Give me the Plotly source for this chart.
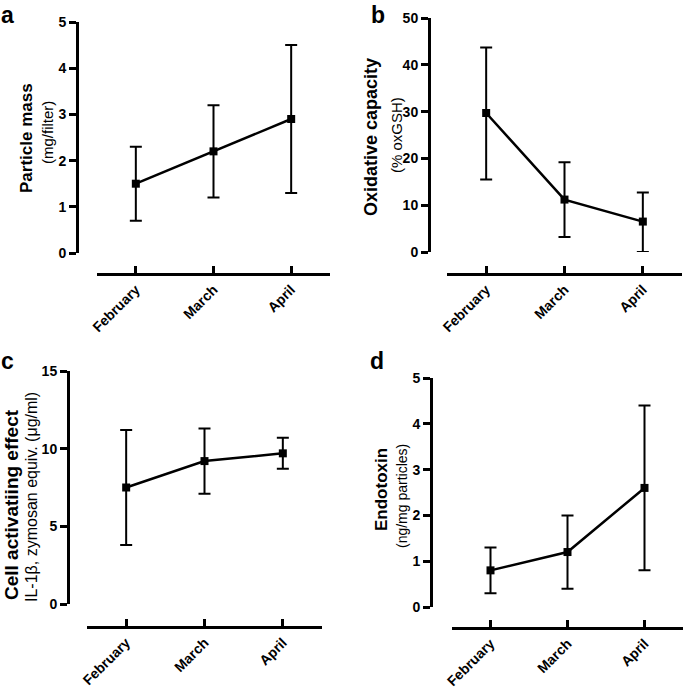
import plotly.graph_objects as go

# ---------------- data ----------------
months = ["February", "March", "April"]

mass = [1.5, 2.2, 2.9]
mass_lo = [0.7, 1.2, 1.3]
mass_hi = [2.3, 3.2, 4.5]

oxid = [29.7, 11.2, 6.5]
oxid_lo = [15.5, 3.2, 0.0]
oxid_hi = [43.7, 19.2, 12.7]

cell = [7.5, 9.2, 9.7]
cell_lo = [3.8, 7.1, 8.7]
cell_hi = [11.2, 11.3, 10.7]

endo = [0.8, 1.2, 2.6]
endo_lo = [0.3, 0.4, 0.8]
endo_hi = [1.3, 2.0, 4.4]

W, H = 685, 692
FONT = "Liberation Sans, Arial, Helvetica, sans-serif"


def px(x):
    return x / W


def py(y):
    return 1 - y / H


# panel geometry in pixels
panels = [
    dict(key="", vals=mass, lo=mass_lo, hi=mass_hi, yr=[0, 5], dt=1,
         xl=97, xr=330, yt=22, yb=253, yax=77, xay=274),
    dict(key="2", vals=oxid, lo=oxid_lo, hi=oxid_hi, yr=[0, 50], dt=10,
         xl=447, xr=682, yt=18, yb=252, yax=429, xay=274),
    dict(key="3", vals=cell, lo=cell_lo, hi=cell_hi, yr=[0, 15], dt=5,
         xl=87, xr=322, yt=371, yb=604, yax=68, xay=627),
    dict(key="4", vals=endo, lo=endo_lo, hi=endo_hi, yr=[0, 5], dt=1,
         xl=452, xr=683, yt=378, yb=607, yax=431, xay=628),
]

fig = go.Figure()
layout = dict(
    width=W, height=H,
    margin=dict(l=0, r=0, t=0, b=0, autoexpand=False),
    paper_bgcolor="white", plot_bgcolor="white",
    showlegend=False,
    font=dict(family=FONT, color="black"),
)

for p in panels:
    k = p["key"]
    fig.add_trace(go.Scatter(
        x=months, y=p["vals"],
        xaxis="x" + k, yaxis="y" + k,
        mode="lines+markers",
        line=dict(color="black", width=2.5),
        marker=dict(symbol="square", size=8, color="black"),
        error_y=dict(
            type="data", symmetric=False,
            array=[h - v for h, v in zip(p["hi"], p["vals"])],
            arrayminus=[v - l for v, l in zip(p["vals"], p["lo"])],
            color="black", thickness=2, width=6,
        ),
        cliponaxis=False,
        hoverinfo="skip",
    ))
    layout["xaxis" + k] = dict(
        domain=[px(p["xl"]), px(p["xr"])],
        anchor="free", position=py(p["xay"]),
        type="category", categoryorder="array", categoryarray=months,
        range=[-0.5, 2.5],
        showline=True, linewidth=3, linecolor="black",
        ticks="inside", ticklen=7, tickwidth=3, tickcolor="black",
        tickangle=-45,
        tickfont=dict(family=FONT, size=14, color="black", weight="bold"),
        showgrid=False, zeroline=False, fixedrange=True, automargin=False,
    )
    layout["yaxis" + k] = dict(
        domain=[py(p["yb"]), py(p["yt"])],
        anchor="free", position=px(p["yax"]),
        range=p["yr"], dtick=p["dt"], tick0=0,
        showline=True, linewidth=3, linecolor="black",
        ticks="outside", ticklen=7, tickwidth=3, tickcolor="black",
        tickfont=dict(family=FONT, size=14, color="black", weight="bold"),
        showgrid=False, zeroline=False, fixedrange=True, automargin=False,
    )

annotations = []

# panel letters (x centre, top of text box in pixels)
letters = [("a", 8, 0), ("b", 378, 0), ("c", 8, 346), ("d", 377, 346)]
for t, x, y in letters:
    annotations.append(dict(
        text="<b>%s</b>" % t, x=px(x), y=py(y), xref="paper", yref="paper",
        xanchor="center", yanchor="top", showarrow=False,
        font=dict(family=FONT, size=23, color="black"),
    ))

# axis titles (bold line + plain line)
titles = [
    ("Particle mass", 17, 26, 138, "(mg/filter)", 15, 47, 133),
    ("Oxidative capacity", 18, 371, 137, "(% oxGSH)", 15, 396, 135),
    ("Cell activatiing effect", 19, 11, 505, "IL-1β, zymosan equiv. (μg/ml)", 16, 31, 497),
    ("Endotoxin", 17, 381, 490, "(ng/mg particles)", 14, 402, 496),
]
for bt, bs, bx, by, st, ss, sx, sy in titles:
    annotations.append(dict(
        text="<b>%s</b>" % bt, x=px(bx), y=py(by), xref="paper", yref="paper",
        xanchor="center", yanchor="middle", showarrow=False, textangle=-90,
        font=dict(family=FONT, size=bs, color="black"),
    ))
    annotations.append(dict(
        text=st, x=px(sx), y=py(sy), xref="paper", yref="paper",
        xanchor="center", yanchor="middle", showarrow=False, textangle=-90,
        font=dict(family=FONT, size=ss, color="black"),
    ))

layout["annotations"] = annotations
fig.update_layout(**layout)
fig.write_html(
    "out.html",
    config={"displayModeBar": False, "staticPlot": True},
    post_script="document.body.style.margin='0';document.body.style.overflow='hidden';",
)
